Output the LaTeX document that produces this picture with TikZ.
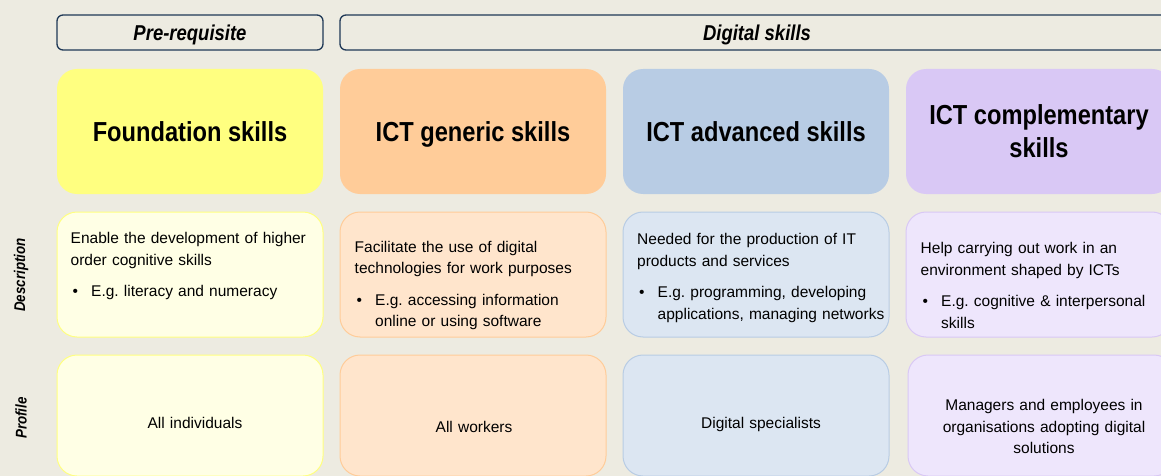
\documentclass[tikz,border=0pt]{standalone}
\usepackage{fontspec}
\setmainfont{Liberation Sans}
\newfontfamily\narrowfont{Liberation Sans}[FakeStretch=0.86]
\usepackage{tikz}
\usetikzlibrary{positioning}
\frenchspacing

\definecolor{paper}{RGB}{237,235,225}
\definecolor{navy}{RGB}{31,56,86}
\definecolor{foundtop}{RGB}{255,255,128}
\definecolor{foundlight}{RGB}{255,255,229}
\definecolor{generictop}{RGB}{255,204,153}
\definecolor{genericlight}{RGB}{255,229,204}
\definecolor{advtop}{RGB}{184,204,228}
\definecolor{advlight}{RGB}{220,230,242}
\definecolor{compltop}{RGB}{217,200,245}
\definecolor{compllight}{RGB}{238,230,252}

% bullet and continuation indent for the examples
\newcommand{\egitem}{\makebox[20.5pt][l]{\hspace{2pt}\textbullet}}
\newcommand{\egcont}{\hspace*{20.5pt}}

\begin{document}
\begin{tikzpicture}[x=1pt,y=-1pt,
    headbox/.style={draw=navy,line width=1.3pt,fill=paper,rounded corners=6pt,
      minimum height=35pt,inner sep=0pt,text depth=0pt,
      font=\narrowfont\bfseries\itshape\fontsize{21.5}{25}\selectfont},
    skillbox/.style={rounded corners=20pt,minimum width=266pt,minimum height=125pt,
      inner sep=0pt,align=center,text depth=0pt,
      font=\narrowfont\bfseries\fontsize{27.5}{33}\selectfont},
    descbox/.style={rounded corners=20pt,line width=1pt,minimum width=266pt,
      minimum height=125pt,inner sep=0pt},
    profbox/.style={descbox,minimum height=121pt},
    desctext/.style={anchor=base west,inner sep=0pt,text width=250pt,align=left,
      font=\fontsize{15.5}{21.5}\selectfont},
    proftext/.style={anchor=base,inner sep=0pt,text width=250pt,align=center,
      font=\fontsize{15.5}{21.5}\selectfont},
    rowlabel/.style={rotate=90,inner sep=0pt,
      font=\narrowfont\bfseries\itshape\fontsize{15.5}{18}\selectfont}]
          \useasboundingbox (0,0) rectangle (1161,476);
          \clip (0,0) rectangle (1161,476);
          \fill[paper] (0,0) rectangle (1161,476);
          % headers
          \node[headbox,minimum width=266pt] (prereq) at (190,32.5) {Pre-requisite};
          \node[headbox,minimum width=834pt] (digital) at (757,32.5) {Digital skills};
          % skill groups
          \node[skillbox,fill=foundtop] (found) at (190,131.5) {Foundation skills};
          \node[skillbox,fill=generictop] (generic) at (473,131.5) {ICT generic skills};
          \node[skillbox,fill=advtop] (advanced) at (756,131.5) {ICT advanced skills};
          \node[skillbox,fill=compltop] (compl) at (1039,131.5) {ICT complementary\\skills};
          % row labels
          \node[rowlabel] (desclabel) at (21,275) {Description};
          \node[rowlabel] (proflabel) at (21,418) {Profile};
          % descriptions
          \node[descbox,draw=foundtop,fill=foundlight] (fdesc) at (190,274.5) {};
          \node[descbox,draw=generictop,fill=genericlight] (gdesc) at (473,274.5) {};
          \node[descbox,draw=advtop,fill=advlight] (adesc) at (756,274.5) {};
          \node[descbox,draw=compltop,fill=compllight] (cdesc) at (1039,274.5) {};
          \node[desctext] (fdesctext) at ([xshift=14,yshift=-32]fdesc.north west)
            {Enable the development of higher\\order cognitive skills\\[10pt]%
             \egitem E.g. literacy and numeracy};
          \node[desctext] (gdesctext) at ([xshift=15,yshift=-40.5]gdesc.north west)
            {Facilitate the use of digital\\technologies for work purposes\\[10pt]%
             \egitem E.g. accessing information\\\egcont online or using software};
          \node[desctext] (adesctext) at ([xshift=14.5,yshift=-33]adesc.north west)
            {Needed for the production of IT\\products and services\\[10pt]%
             \egitem E.g. programming, developing\\\egcont applications, managing networks};
          \node[desctext] (cdesctext) at ([xshift=15,yshift=-42]cdesc.north west)
            {Help carrying out work in an\\environment shaped by ICTs\\[10pt]%
             \egitem E.g. cognitive \& interpersonal\\\egcont skills};
          % profiles
          \node[profbox,draw=foundtop,fill=foundlight] (fprof) at (190,415.5) {};
          \node[profbox,draw=generictop,fill=genericlight] (gprof) at (473,415.5) {};
          \node[profbox,draw=advtop,fill=advlight] (aprof) at (756,415.5) {};
          \node[profbox,draw=compltop,fill=compllight] (cprof) at (1041,415.5) {};
          \node[proftext] (fproftext) at ([xshift=5,yshift=-74]fprof.north) {All individuals};
          \node[proftext] (gproftext) at ([xshift=1,yshift=-78]gprof.north) {All workers};
          \node[proftext] (aproftext) at ([xshift=5,yshift=-74]aprof.north) {Digital specialists};
          \node[proftext] (cproftext) at ([xshift=3,yshift=-56]cprof.north)
            {Managers and employees in\\organisations adopting digital\\solutions};
        \end{tikzpicture}
\end{document}
